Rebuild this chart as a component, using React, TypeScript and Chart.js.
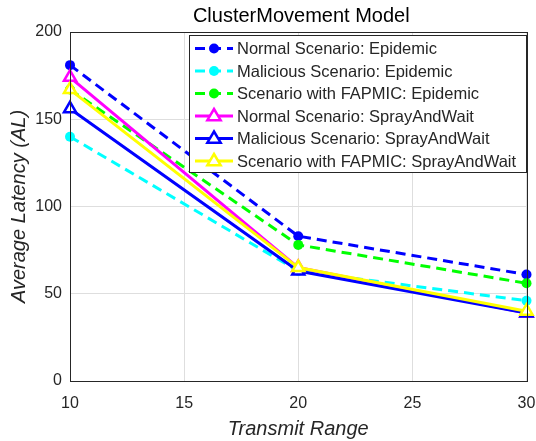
import React, { useEffect, useRef } from "react";
import { Chart, registerables } from "chart.js";

Chart.register(...registerables);

const transmitRange = [10, 20, 30];
const normalEpidemic = [181, 83, 61];
const maliciousEpidemic = [140, 63, 46];
const fapmicEpidemic = [167, 78, 56];
const normalSpray = [174, 65, 39];
const maliciousSpray = [156, 63, 39];
const fapmicSpray = [167, 65, 40];

const seriesLabels = [
  "Normal Scenario: Epidemic",
  "Malicious Scenario: Epidemic",
  "Scenario with FAPMIC: Epidemic",
  "Normal Scenario: SprayAndWait",
  "Malicious Scenario: SprayAndWait",
  "Scenario with FAPMIC: SprayAndWait",
];
const seriesColors = ["#0000ff", "#00ffff", "#00ff00", "#ff00ff", "#0000ff", "#ffff00"];
const xTicks = [10, 15, 20, 25, 30];
const yTicks = [0, 50, 100, 150, 200];

const chartTitle = "ClusterMovement Model";
const xTitle = "Transmit Range";
const yTitle = "Average Latency (AL)";

const FONT = "'Liberation Sans', Arial, Helvetica, sans-serif";
const TEXT = "#262626";

function drawMarker(ctx: CanvasRenderingContext2D, kind: string, color: string, x: number, y: number) {
  ctx.save();
  ctx.setLineDash([]);
  if (kind === "circle") {
    ctx.fillStyle = color;
    ctx.beginPath();
    ctx.arc(x, y, 5, 0, Math.PI * 2);
    ctx.fill();
  } else {
    const r = 7;
    ctx.strokeStyle = color;
    ctx.fillStyle = "#ffffff";
    ctx.lineWidth = 2.5;
    ctx.beginPath();
    ctx.moveTo(x, y - r);
    ctx.lineTo(x + r * 0.95, y + r * 0.6);
    ctx.lineTo(x - r * 0.95, y + r * 0.6);
    ctx.closePath();
    ctx.fill();
    ctx.stroke();
  }
  ctx.restore();
}

const decorPlugin = {
  id: "decor",
  afterDraw(chart: any) {
    const ctx: CanvasRenderingContext2D = chart.ctx;
    const a = chart.chartArea;
    ctx.save();
    ctx.strokeStyle = TEXT;
    ctx.lineWidth = 1;
    ctx.setLineDash([]);
    ctx.strokeRect(Math.round(a.left) + 0.5, Math.round(a.top) + 0.5, Math.round(a.right - a.left), Math.round(a.bottom - a.top));
    ctx.fillStyle = "#000000";
    ctx.font = `20px ${FONT}`;
    ctx.textAlign = "center";
    ctx.textBaseline = "middle";
    ctx.fillText(chartTitle, (a.left + a.right) / 2 + 3, 16);
    ctx.fillStyle = TEXT;
    ctx.font = `italic 20px ${FONT}`;
    ctx.fillText(xTitle, (a.left + a.right) / 2, 429);
    ctx.save();
    ctx.translate(19, (a.top + a.bottom) / 2);
    ctx.rotate(-Math.PI / 2);
    ctx.fillText(yTitle, 0, 0);
    ctx.restore();

    const lx = 189, ly = 35, lw = 337, lh = 137;
    ctx.fillStyle = "#ffffff";
    ctx.fillRect(lx, ly, lw, lh);
    ctx.strokeStyle = TEXT;
    ctx.lineWidth = 1;
    ctx.strokeRect(lx + 0.5, ly + 0.5, lw, lh);
    const datasets = chart.data.datasets;
    ctx.font = `16.5px ${FONT}`;
    ctx.textAlign = "left";
    ctx.textBaseline = "middle";
    datasets.forEach((ds: any, i: number) => {
      const y = 48.5 + i * 22.5;
      ctx.save();
      ctx.strokeStyle = ds.borderColor;
      ctx.lineWidth = 3;
      ctx.setLineDash(ds.borderDash || []);
      ctx.beginPath();
      ctx.moveTo(195, y);
      ctx.lineTo(233, y);
      ctx.stroke();
      ctx.restore();
      drawMarker(ctx, ds.pointStyle, ds.borderColor, 214, y);
      ctx.fillStyle = TEXT;
      ctx.fillText(ds.label, 237, y + 1);
    });
    ctx.restore();
  },
};

export default function App() {
  const ref = useRef<HTMLCanvasElement | null>(null);
  useEffect(() => {
    if (!ref.current) return;
    const values = [normalEpidemic, maliciousEpidemic, fapmicEpidemic, normalSpray, maliciousSpray, fapmicSpray];
    const datasets = values.map((vals, i) => {
      const epi = i < 3;
      return {
        label: seriesLabels[i],
        data: transmitRange.map((x, j) => ({ x, y: vals[j] })),
        borderColor: seriesColors[i],
        backgroundColor: epi ? seriesColors[i] : "#ffffff",
        borderWidth: 3,
        borderDash: epi ? [10, 6] : [],
        pointStyle: epi ? "circle" : "triangle",
        pointRadius: epi ? 5 : 7,
        pointBorderWidth: epi ? 0 : 2.5,
        pointBackgroundColor: epi ? seriesColors[i] : "#ffffff",
        pointBorderColor: seriesColors[i],
        fill: false,
        tension: 0,
        clip: false,
        order: 6 - i,
      };
    });
    const chart = new Chart(ref.current, {
      type: "line",
      data: { datasets } as any,
      options: {
        responsive: false,
        animation: false,
        layout: { padding: { top: 32, right: 9, bottom: 0, left: 0 } },
        plugins: { legend: { display: false }, title: { display: false }, tooltip: { enabled: false } },
        scales: {
          x: {
            type: "linear",
            min: 10,
            max: 30,
            afterBuildTicks: (s: any) => {
              s.ticks = xTicks.map((v) => ({ value: v }));
            },
            afterFit: (s: any) => {
              s.height = 60;
              s.paddingLeft = 0;
              s.paddingRight = 0;
            },
            ticks: { font: { size: 16, family: FONT }, color: TEXT, padding: 13, maxRotation: 0 },
            grid: { color: "#dedede", drawTicks: false, lineWidth: 1 },
            border: { display: true, color: TEXT },
          },
          y: {
            type: "linear",
            min: 0,
            max: 200,
            afterBuildTicks: (s: any) => {
              s.ticks = yTicks.map((v) => ({ value: v }));
            },
            afterFit: (s: any) => {
              s.width = 70;
              s.paddingTop = 0;
              s.paddingBottom = 0;
            },
            ticks: { font: { size: 16, family: FONT }, color: TEXT, padding: 8 },
            grid: { color: "#dedede", drawTicks: false, lineWidth: 1 },
            border: { display: true, color: TEXT },
          },
        },
      },
      plugins: [decorPlugin],
    } as any);
    return () => chart.destroy();
  }, []);
  return (
    <div style={{ position: "fixed", left: 0, top: 0, width: 536, height: 441, background: "#ffffff" }}>
      <canvas ref={ref} width={536} height={441} style={{ width: 536, height: 441, display: "block" }} />
    </div>
  );
}
